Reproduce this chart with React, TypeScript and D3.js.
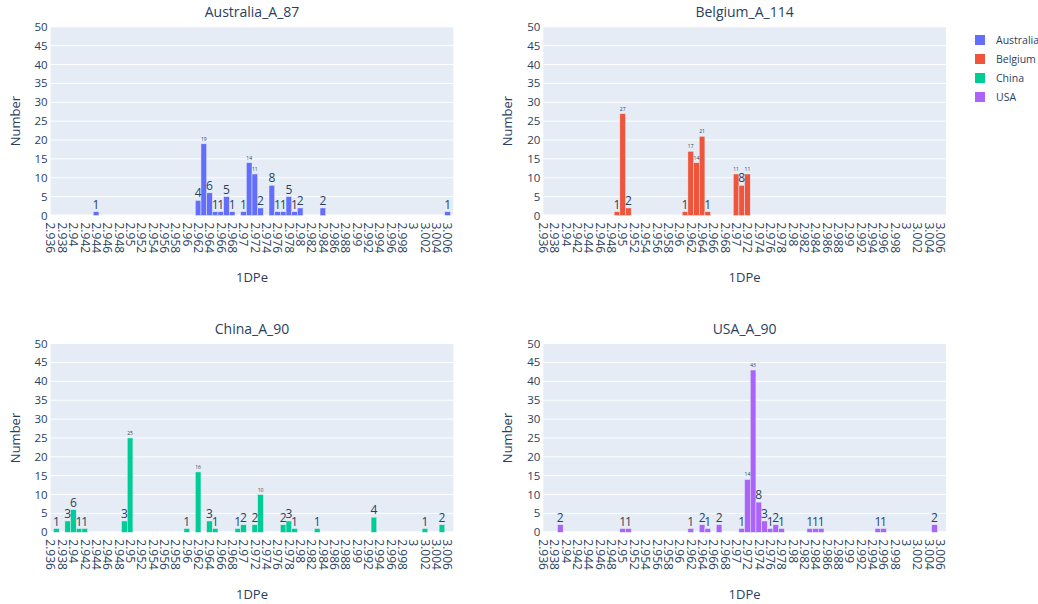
import React from 'react';
import * as d3 from 'd3';

// values (bar position -> count)
const australiaX = [2.944, 2.962, 2.963, 2.964, 2.965, 2.966, 2.967, 2.968, 2.970, 2.971, 2.972, 2.973, 2.975, 2.976, 2.977, 2.978, 2.979, 2.980, 2.984, 3.006];
const australiaY = [1, 4, 19, 6, 1, 1, 5, 1, 1, 14, 11, 2, 8, 1, 1, 5, 1, 2, 2, 1];

const belgiumX = [2.949, 2.950, 2.951, 2.961, 2.962, 2.963, 2.964, 2.965, 2.970, 2.971, 2.972];
const belgiumY = [1, 27, 2, 1, 17, 14, 21, 1, 11, 8, 11];

const chinaX = [2.937, 2.939, 2.940, 2.941, 2.942, 2.949, 2.950, 2.960, 2.962, 2.964, 2.965, 2.969, 2.970, 2.972, 2.973, 2.977, 2.978, 2.979, 2.983, 2.993, 3.002, 3.005];
const chinaY = [1, 3, 6, 1, 1, 3, 25, 1, 16, 3, 1, 1, 2, 2, 10, 2, 3, 1, 1, 4, 1, 2];

const usaX = [2.939, 2.950, 2.951, 2.962, 2.964, 2.965, 2.967, 2.971, 2.972, 2.973, 2.974, 2.975, 2.976, 2.977, 2.978, 2.983, 2.984, 2.985, 2.995, 2.996, 3.005];
const usaY = [2, 1, 1, 1, 2, 1, 2, 1, 14, 43, 8, 3, 1, 2, 1, 1, 1, 1, 1, 1, 2];

const countries = ['Australia', 'Belgium', 'China', 'USA'];
const titles = ['Australia_A_87', 'Belgium_A_114', 'China_A_90', 'USA_A_90'];
const colors = ['#636efa', '#EF553B', '#00cc96', '#ab63fa'];
const seriesX = [australiaX, belgiumX, chinaX, usaX];
const seriesY = [australiaY, belgiumY, chinaY, usaY];

const xTicks = d3.range(0, 36).map(i => +(2.936 + i * 0.002).toFixed(3));
const yTicks = d3.range(0, 55, 5);

const W = 1038;
const H = 604;
const font = '"Open Sans", verdana, arial, sans-serif';
const textColor = '#2a3f5f';

// panel boxes
const cols = [50.7, 543.3];
const rows = [26.8, 343.6];
const pw = 402.6;
const ph = 188.7;

const Panel = ({ idx }: { idx: number }) => {
  const left = cols[idx % 2];
  const top = rows[Math.floor(idx / 2)];
  const x = d3.scaleLinear().domain([2.936, 3.007]).range([0, pw]);
  const y = d3.scaleLinear().domain([0, 50]).range([ph, 0]);
  const bw = x(2.937) - x(2.936);
  const xs = seriesX[idx];
  const ys = seriesY[idx];

  return (
    <g transform={`translate(${left},${top})`}>
      <rect width={pw} height={ph} fill="#E5ECF6" />
      {yTicks.map(t => (
        <line key={t} x1={0} x2={pw} y1={y(t)} y2={y(t)} stroke="#fff" strokeWidth={t === 0 ? 2 : 1} />
      ))}
      {yTicks.map(t => (
        <text key={'yl' + t} x={-3} y={y(t)} dy="0.35em" textAnchor="end" fontSize={11.5} fill={textColor}>{t}</text>
      ))}
      {xs.map((v, i) => (
        <rect key={'b' + i} x={x(v) - bw / 2} width={bw} y={y(ys[i])} height={y(0) - y(ys[i])}
          fill={colors[idx]} stroke="#E5ECF6" strokeWidth={0.5} />
      ))}
      {xs.map((v, i) => {
        const label = String(ys[i]);
        const fs = label.length > 1 ? 5 : 12;
        return (
          <text key={'t' + i} x={x(v)} y={y(ys[i]) - 3} textAnchor="middle" fontSize={fs} fill={textColor}>{label}</text>
        );
      })}
      {xTicks.map(t => (
        <text key={'xl' + t} transform={`translate(${x(t)},${ph + 7}) rotate(90)`} dy="0.35em"
          textAnchor="start" fontSize={12} fill={textColor}>{String(t)}</text>
      ))}
      <text x={pw / 2} y={-10} textAnchor="middle" fontSize={14} fill={textColor}>{titles[idx]}</text>
      <text x={pw / 2} y={ph + 67} textAnchor="middle" fontSize={13} fill={textColor}>1DPe</text>
      <text transform={`translate(${-35.7},${ph / 2}) rotate(-90)`} dy="0.35em" textAnchor="middle" fontSize={13} fill={textColor}>Number</text>
    </g>
  );
};

const App = () => {
  return (
    <svg width={W} height={H} style={{ position: 'absolute', left: 0, top: 0, background: '#fff' }} fontFamily={font}>
      {[0, 1, 2, 3].map(i => <Panel key={i} idx={i} />)}
      <g transform="translate(975,40)">
        {countries.map((c, i) => (
          <g key={c} transform={`translate(0,${i * 19})`}>
            <rect x={0} y={-5} width={10} height={10} fill={colors[i]} />
            <text x={21} y={0} dy="0.35em" fontSize={10.5} fill={textColor}>{c}</text>
          </g>
        ))}
      </g>
    </svg>
  );
};

export default App;
